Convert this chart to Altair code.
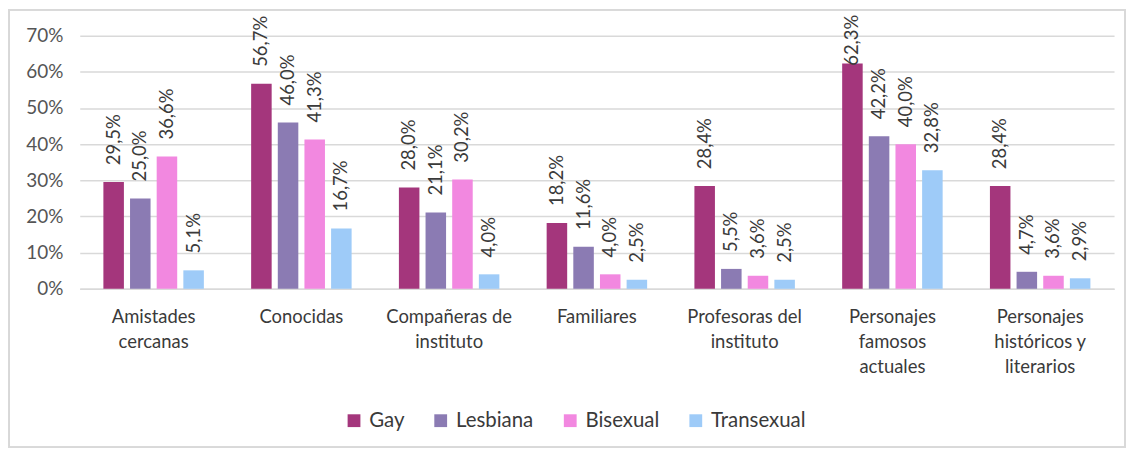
import altair as alt
import pandas as pd

categories = [
    "Amistades|cercanas",
    "Conocidas",
    "Compañeras de|instituto",
    "Familiares",
    "Profesoras del|instituto",
    "Personajes|famosos|actuales",
    "Personajes|históricos y|literarios",
]
series = ["Gay", "Lesbiana", "Bisexual", "Transexual"]
gay = [29.5, 56.7, 28.0, 18.2, 28.4, 62.3, 28.4]
lesbiana = [25.0, 46.0, 21.1, 11.6, 5.5, 42.2, 4.7]
bisexual = [36.6, 41.3, 30.2, 4.0, 3.6, 40.0, 3.6]
transexual = [5.1, 16.7, 4.0, 2.5, 2.5, 32.8, 2.9]
y_ticks = [0, 0.1, 0.2, 0.3, 0.4, 0.5, 0.6, 0.7]
colors = ["#A4367C", "#8B7BB3", "#F288E0", "#9ECBF8"]

rows = []
for i, c in enumerate(categories):
    for s, vals in zip(series, [gay, lesbiana, bisexual, transexual]):
        v = vals[i]
        rows.append({"cat": c, "serie": s, "v": v / 100.0,
                     "label": f"{v:.1f}%".replace(".", ",")})
df = pd.DataFrame(rows)

FONT = "Lato"
TXT = "#3a3a3a"

x = alt.X("cat:N", sort=categories, title=None,
          scale=alt.Scale(paddingInner=0.32, paddingOuter=0.16),
          axis=alt.Axis(labelAngle=0, labelExpr="split(datum.label, '|')",
                        labelFontSize=18.5, labelColor=TXT, labelFont=FONT,
                        labelLineHeight=25, labelPadding=19, labelBaseline="top",
                        labelOverlap=False, labelLimit=300,
                        ticks=False, domain=True, domainColor="#d9d9d9",
                        domainWidth=1.5))
xo = alt.XOffset("serie:N", sort=series,
                 scale=alt.Scale(paddingInner=0.23, paddingOuter=0))
color = alt.Color("serie:N", sort=series,
                  scale=alt.Scale(domain=series, range=colors),
                  legend=alt.Legend(title=None, orient="none", direction="horizontal",
                                    legendX=265, legendY=376,
                                    symbolType="square", symbolSize=165,
                                    symbolStrokeWidth=0, labelFontSize=20.5,
                                    labelFont=FONT, labelColor=TXT,
                                    labelOffset=5, columnPadding=26))

yscale = alt.Scale(domain=[0, 0.7], nice=False)
yaxis = alt.Axis(format="%", values=y_ticks, labelOverlap=False,
                 labelFontSize=19, labelFont=FONT, labelColor="#555555",
                 labelPadding=17, ticks=False, domain=False,
                 gridColor="#d9d9d9", gridWidth=1.5)

bars = alt.Chart(df).mark_bar().encode(
    x=x, xOffset=xo,
    y=alt.Y("v:Q", title=None, scale=yscale, axis=yaxis),
    color=color,
)

labels = alt.Chart(df).transform_calculate(
    pos="datum.v > 0.6 ? 0.57 : datum.v"
).mark_text(angle=270, align="left", baseline="middle", dx=17,
            fontSize=18.5, font=FONT, color=TXT).encode(
    x=x, xOffset=xo,
    y=alt.Y("pos:Q", title=None, scale=yscale, axis=yaxis),
    text="label:N",
)

border = alt.Chart(df).mark_rect(fill="transparent", stroke="#d9d9d9",
                                 strokeWidth=1.5).encode(
    x=alt.value(-71), x2=alt.value(1049), y=alt.value(-26), y2=alt.value(413)
)

chart = alt.layer(bars, labels, border).properties(
    width=1038, height=254,
    autosize=alt.AutoSizeParams(type="none"),
    padding={"left": 72, "top": 27, "right": 12, "bottom": 160},
).configure(font=FONT).configure_view(strokeWidth=0, stroke="transparent")

chart.save("out.html", embed_options={"renderer": "svg", "actions": False})
